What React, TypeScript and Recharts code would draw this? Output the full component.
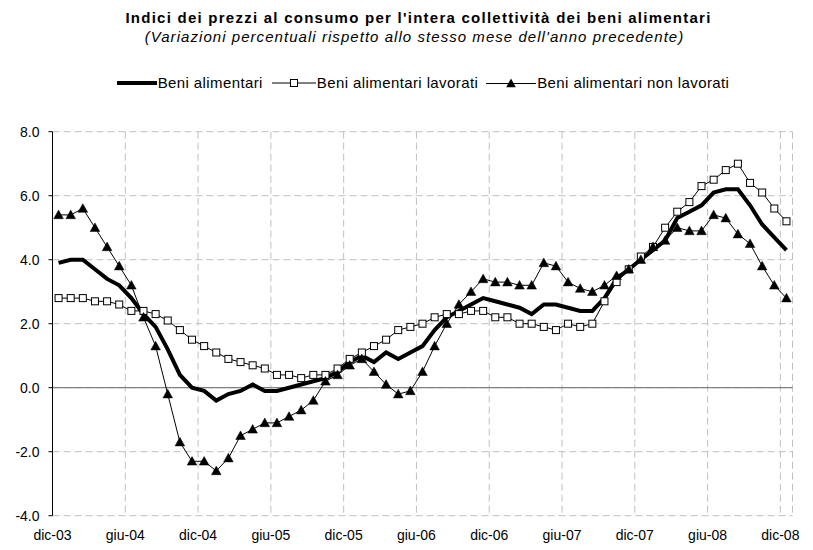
import React from 'react'
import { LineChart, Line, XAxis, YAxis, CartesianGrid, ReferenceLine } from 'recharts'

const months = [
  'dic-03',
  'gen-04', 'feb-04', 'mar-04', 'apr-04', 'mag-04', 'giu-04', 'lug-04', 'ago-04', 'set-04', 'ott-04', 'nov-04', 'dic-04',
  'gen-05', 'feb-05', 'mar-05', 'apr-05', 'mag-05', 'giu-05', 'lug-05', 'ago-05', 'set-05', 'ott-05', 'nov-05', 'dic-05',
  'gen-06', 'feb-06', 'mar-06', 'apr-06', 'mag-06', 'giu-06', 'lug-06', 'ago-06', 'set-06', 'ott-06', 'nov-06', 'dic-06',
  'gen-07', 'feb-07', 'mar-07', 'apr-07', 'mag-07', 'giu-07', 'lug-07', 'ago-07', 'set-07', 'ott-07', 'nov-07', 'dic-07',
  'gen-08', 'feb-08', 'mar-08', 'apr-08', 'mag-08', 'giu-08', 'lug-08', 'ago-08', 'set-08', 'ott-08', 'nov-08', 'dic-08',
]

const tickLabels = ['dic-03', 'giu-04', 'dic-04', 'giu-05', 'dic-05', 'giu-06', 'dic-06', 'giu-07', 'dic-07', 'giu-08', 'dic-08']

// Beni alimentari (thick line)
const alimentari = [
  3.9,
  4.0, 4.0, 3.7, 3.4, 3.2, 2.8, 2.3, 1.9, 1.2, 0.4, 0.0, -0.1,
  -0.4, -0.2, -0.1, 0.1, -0.1, -0.1, 0.0, 0.1, 0.2, 0.3, 0.5, 0.8,
  1.0, 0.8, 1.1, 0.9, 1.1, 1.3, 1.8, 2.2, 2.4, 2.6, 2.8, 2.7,
  2.6, 2.5, 2.3, 2.6, 2.6, 2.5, 2.4, 2.4, 2.8, 3.4, 3.7, 4.0,
  4.3, 4.6, 5.3, 5.5, 5.7, 6.1, 6.2, 6.2, 5.7, 5.1, 4.7, 4.3,
]

// Beni alimentari lavorati (squares)
const lavorati = [
  2.8,
  2.8, 2.8, 2.7, 2.7, 2.6, 2.4, 2.4, 2.3, 2.1, 1.8, 1.5, 1.3,
  1.1, 0.9, 0.8, 0.7, 0.6, 0.4, 0.4, 0.3, 0.4, 0.4, 0.6, 0.9,
  1.1, 1.3, 1.5, 1.8, 1.9, 2.0, 2.2, 2.3, 2.3, 2.4, 2.4, 2.2,
  2.2, 2.0, 2.0, 1.9, 1.8, 2.0, 1.9, 2.0, 2.7, 3.3, 3.7, 4.1,
  4.4, 5.0, 5.5, 5.8, 6.3, 6.5, 6.8, 7.0, 6.4, 6.1, 5.6, 5.2,
]

// Beni alimentari non lavorati (triangles)
const nonLavorati = [
  5.4,
  5.4, 5.6, 5.0, 4.4, 3.8, 3.2, 2.2, 1.3, -0.2, -1.7, -2.3, -2.3,
  -2.6, -2.2, -1.5, -1.3, -1.1, -1.1, -0.9, -0.7, -0.4, 0.2, 0.4, 0.7,
  0.9, 0.5, 0.1, -0.2, -0.1, 0.5, 1.3, 2.0, 2.6, 3.0, 3.4, 3.3,
  3.3, 3.2, 3.2, 3.9, 3.8, 3.3, 3.1, 3.0, 3.2, 3.5, 3.7, 4.0,
  4.4, 4.6, 5.0, 4.9, 4.9, 5.4, 5.3, 4.8, 4.5, 3.8, 3.2, 2.8,
]

const yTicks = [-4, -2, 0, 2, 4, 6, 8]

const data = months.map((m, i) => ({
  i,
  month: m,
  alimentari: alimentari[i],
  lavorati: lavorati[i],
  nonLavorati: nonLavorati[i],
}))

// ticks sit on the boundary before each labelled month
const xTicks = tickLabels.map((l) => months.indexOf(l) - 0.5)

const FONT = '"Liberation Sans", Arial, sans-serif'

const SquareDot = (props: any) => {
  const { cx, cy, index } = props
  if (cx == null || cy == null) return null
  return <rect key={`sq-${index}`} x={cx - 3.5} y={cy - 3.5} width={7} height={7} fill="#fff" stroke="#000" strokeWidth={1} />
}

const TriangleDot = (props: any) => {
  const { cx, cy, index } = props
  if (cx == null || cy == null) return null
  return (
    <polygon
      key={`tr-${index}`}
      points={`${cx},${cy - 4.8} ${cx + 4.8},${cy + 3.8} ${cx - 4.8},${cy + 3.8}`}
      fill="#000"
      stroke="#000"
      strokeWidth={0.5}
    />
  )
}

function LegendRow() {
  const txt: React.CSSProperties = { fontSize: 15, letterSpacing: 0.4, color: '#000', whiteSpace: 'nowrap' }
  return (
    <div
      style={{
        position: 'absolute',
        left: 0,
        top: 74,
        width: 846,
        display: 'flex',
        justifyContent: 'center',
        alignItems: 'center',
        fontFamily: FONT,
      }}
    >
      <svg width={40} height={10}>
        <line x1={0} y1={5} x2={40} y2={5} stroke="#000" strokeWidth={4} />
      </svg>
      <span style={{ ...txt, marginLeft: 1 }}>Beni alimentari</span>
      <svg width={44} height={10} style={{ marginLeft: 9 }}>
        <line x1={0} y1={5} x2={44} y2={5} stroke="#000" strokeWidth={1} />
        <rect x={18.5} y={1.5} width={7} height={7} fill="#fff" stroke="#000" />
      </svg>
      <span style={{ ...txt, marginLeft: 1 }}>Beni alimentari lavorati</span>
      <svg width={50} height={10} style={{ marginLeft: 8 }}>
        <line x1={0} y1={5.5} x2={50} y2={5.5} stroke="#000" strokeWidth={1} />
        <polygon points="25,0.5 29.8,9.3 20.2,9.3" fill="#000" />
      </svg>
      <span style={{ ...txt, marginLeft: 1 }}>Beni alimentari non lavorati</span>
    </div>
  )
}

export default function App() {
  return (
    <div style={{ position: 'absolute', left: 0, top: 0, width: 813, height: 550, background: '#fff', fontFamily: FONT }}>
      <div
        style={{
          position: 'absolute',
          left: 12,
          top: 9,
          width: 813,
          textAlign: 'center',
          fontWeight: 'bold',
          fontSize: 15,
          letterSpacing: 1.25,
        }}
      >
        Indici dei prezzi al consumo per l'intera collettività dei beni alimentari
      </div>
      <div
        style={{
          position: 'absolute',
          left: 8,
          top: 28,
          width: 813,
          textAlign: 'center',
          fontStyle: 'italic',
          fontSize: 15,
          letterSpacing: 1.05,
        }}
      >
        (Variazioni percentuali rispetto allo stesso mese dell'anno precedente)
      </div>
      <LegendRow />
      <div style={{ position: 'absolute', left: 0, top: 0 }}>
        <LineChart width={813} height={550} data={data} margin={{ top: 131.7, right: 20.5, bottom: 4, left: 0 }}>
          <CartesianGrid stroke="#c0c0c0" strokeDasharray="7 4" />
          <XAxis
            dataKey="i"
            type="number"
            domain={[-0.5, 60.5]}
            ticks={xTicks}
            tickFormatter={(v: number) => months[Math.round(v + 0.5)]}
            axisLine={false}
            tickLine={false}
            height={30.3}
            tickMargin={8}
            tick={{ fill: '#000', fontSize: 14, fontFamily: FONT }}
            interval={0}
          />
          <YAxis
            type="number"
            domain={[-4, 8]}
            ticks={yTicks}
            tickFormatter={(v: number) => v.toFixed(1)}
            width={52.5}
            axisLine={{ stroke: '#000', strokeWidth: 1 }}
            tickLine={{ stroke: '#000' }}
            tickSize={4}
            tickMargin={9}
            tick={{ fill: '#000', fontSize: 14, fontFamily: FONT }}
            allowDataOverflow
          />
          <ReferenceLine y={0} stroke="#808080" strokeWidth={1.2} />
          <Line
            dataKey="alimentari"
            stroke="#000"
            strokeWidth={4}
            dot={false}
            type="linear"
            isAnimationActive={false}
          />
          <Line
            dataKey="lavorati"
            stroke="#000"
            strokeWidth={1}
            dot={SquareDot}
            type="linear"
            isAnimationActive={false}
          />
          <Line
            dataKey="nonLavorati"
            stroke="#000"
            strokeWidth={1}
            dot={TriangleDot}
            type="linear"
            isAnimationActive={false}
          />
        </LineChart>
      </div>
    </div>
  )
}
